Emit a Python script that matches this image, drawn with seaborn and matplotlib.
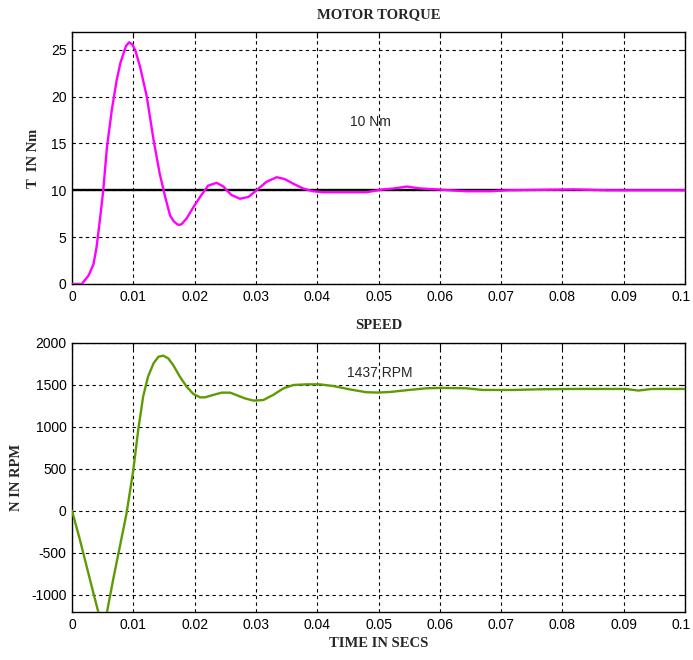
import numpy as np
import pandas as pd
import seaborn as sns
import matplotlib
matplotlib.use('Agg')
import matplotlib.pyplot as plt
import matplotlib.transforms as mtransforms

# Motor torque response
torque_t = [0, 0.0016, 0.0027, 0.0035, 0.004, 0.0046, 0.0051, 0.0057, 0.0065, 0.0073,
            0.0079, 0.0084, 0.0088, 0.0093, 0.0098, 0.0103, 0.0111, 0.0122, 0.0133, 0.0143,
            0.0152, 0.016, 0.0166, 0.0171, 0.0175, 0.0179, 0.0187, 0.0198, 0.0209, 0.0222,
            0.0236, 0.0247, 0.026, 0.0274, 0.0288, 0.0301, 0.0317, 0.0334, 0.0347, 0.0361,
            0.0377, 0.0393, 0.041, 0.0453, 0.048, 0.049, 0.0508, 0.0525, 0.0546, 0.0568,
            0.0595, 0.0617, 0.0644, 0.0682, 0.071, 0.0819, 0.0873, 0.1]
torque = [0, 0, 0.9, 2.1, 3.9, 7.1, 10, 14.6, 18.6, 21.8,
          23.6, 24.6, 25.4, 25.8, 25.6, 25, 23.2, 20, 15.4, 11.8,
          9.3, 7.3, 6.7, 6.4, 6.3, 6.4, 7, 8.2, 9.3, 10.5,
          10.8, 10.4, 9.5, 9.1, 9.3, 10, 10.9, 11.4, 11.2, 10.7,
          10.2, 9.9, 9.8, 9.8, 9.8, 9.9, 10.1, 10.2, 10.4, 10.2,
          10.1, 10, 9.9, 9.9, 10, 10.1, 10, 10]
torque_ref = 10

# Rotor speed response
speed_t = [0, 0.0013, 0.0024, 0.0035, 0.0043, 0.005, 0.0057, 0.0067, 0.0078, 0.0089,
           0.01, 0.0108, 0.0116, 0.0124, 0.0133, 0.0141, 0.0149, 0.0157, 0.0165, 0.0176,
           0.0187, 0.0198, 0.0209, 0.0217, 0.023, 0.0244, 0.0258, 0.0268, 0.0282, 0.0296,
           0.0312, 0.0328, 0.0345, 0.0361, 0.0383, 0.0404, 0.0426, 0.0453, 0.048, 0.05,
           0.052, 0.055, 0.0578, 0.06, 0.0643, 0.067, 0.072, 0.0762, 0.0816, 0.0903,
           0.0924, 0.0946, 0.1]
speed = [0, -349, -667, -984, -1210, -1330, -1210, -825, -429, -32,
         484, 960, 1357, 1595, 1754, 1833, 1845, 1813, 1734, 1595,
         1476, 1389, 1349, 1349, 1377, 1405, 1405, 1377, 1337, 1310,
         1317, 1377, 1456, 1496, 1504, 1504, 1484, 1444, 1410, 1406,
         1414, 1437, 1457, 1461, 1457, 1437, 1437, 1445, 1449, 1449,
         1430, 1449, 1449]

x_ticks = [0, 0.01, 0.02, 0.03, 0.04, 0.05, 0.06, 0.07, 0.08, 0.09, 0.1]
x_labels = ['0', '0.01', '0.02', '0.03', '0.04', '0.05', '0.06', '0.07', '0.08', '0.09', '0.1']
torque_ticks = [0, 5, 10, 15, 20, 25]
speed_ticks = [-1000, -500, 0, 500, 1000, 1500, 2000]

torque_df = pd.DataFrame({'t': torque_t, 'T': torque})
speed_df = pd.DataFrame({'t': speed_t, 'N': speed})

sns.set_style('white', {'xtick.direction': 'in', 'ytick.direction': 'in'})
plt.rcParams['font.family'] = ['Liberation Sans', 'DejaVu Sans']
plt.rcParams['axes.unicode_minus'] = False  # plain hyphen like the scope output

serif_bold = {'family': 'Liberation Serif', 'weight': 'bold', 'size': 10.5}

fig = plt.figure(figsize=(6.93, 6.6), dpi=100)
ax1 = fig.add_axes([0.1039, 0.5697, 0.8846, 0.3818])
ax2 = fig.add_axes([0.1039, 0.0723, 0.8846, 0.4085])

# Torque plot
ax1.plot([0, 0.1], [torque_ref, torque_ref], color='black', lw=1.7, zorder=2)
sns.lineplot(data=torque_df, x='t', y='T', ax=ax1, color='#ff00ff', lw=1.7, zorder=3)
ax1.set_xlim(0, 0.1)
ax1.set_ylim(0, 26.9)
ax1.set_yticks(torque_ticks)
ax1.set_xticks(x_ticks)
ax1.set_xticklabels(x_labels)
ax1.set_title('MOTOR TORQUE', fontdict=serif_bold, pad=10)
ax1.set_ylabel('T  IN Nm', fontdict=serif_bold, labelpad=8)
ax1.set_xlabel('')
ax1.text(0.0454, 17.3, '10 Nm', fontsize=10, va='center')

# Speed plot
sns.lineplot(data=speed_df, x='t', y='N', ax=ax2, color='#5f9a05', lw=1.7, zorder=3)
ax2.set_xlim(0, 0.1)
ax2.set_ylim(-1210, 2000)
ax2.set_yticks(speed_ticks)
ax2.set_xticks(x_ticks)
ax2.set_xticklabels(x_labels)
ax2.set_title('SPEED', fontdict=serif_bold, pad=10)
ax2.set_ylabel('N IN RPM', fontdict=serif_bold, labelpad=6)
ax2.set_xlabel('TIME IN SECS', fontdict=serif_bold, labelpad=4)
ax2.text(0.0448, 1640, '1437 RPM', fontsize=10, va='center')

for ax in (ax1, ax2):
    ax.grid(True, color='black', linestyle=(0, (3, 3)), linewidth=0.8)
    ax.tick_params(labelsize=10, length=4, top=True, right=True, colors='black', pad=4)
    for s in ax.spines.values():
        s.set_color('black')
        s.set_linewidth(1.0)
        s.set_visible(True)
    # nudge the last x label a bit left so it stays inside the figure
    last = ax.get_xticklabels()[-1]
    last.set_transform(last.get_transform() +
                       mtransforms.ScaledTranslation(-3 / 72, 0, fig.dpi_scale_trans))

fig.savefig('out.png', dpi=100)
